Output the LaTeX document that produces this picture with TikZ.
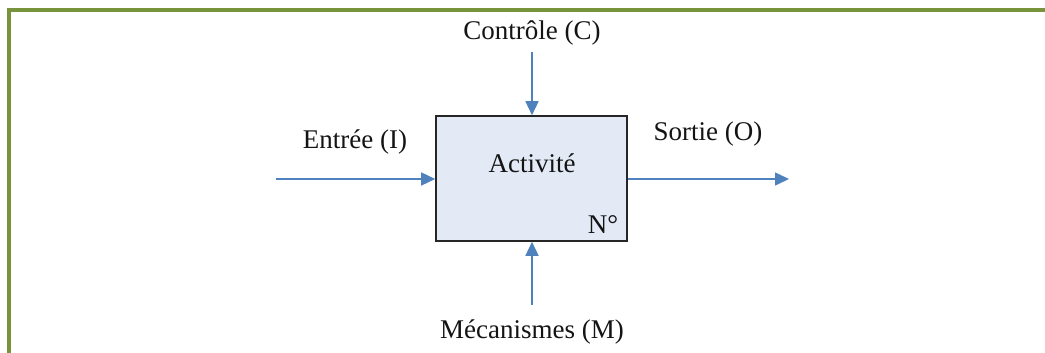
\documentclass[tikz,border=0pt]{standalone}
\usepackage{fontspec}
\setmainfont{Liberation Serif}
\usetikzlibrary{arrows.meta}
\definecolor{frameGreen}{RGB}{119,147,60}
\definecolor{arrowBlue}{RGB}{79,129,189}
\definecolor{boxFill}{RGB}{227,234,246}
\tikzset{
  lbl/.style={font=\fontsize{27}{30}\selectfont, text=black!92, inner sep=0pt, anchor=base},
  flow/.style={draw=arrowBlue, line width=1.5pt, -{Triangle[length=14pt,width=13pt]}},
  actbox/.style={draw=black!85, fill=boxFill, line width=1.6pt, minimum width=191pt, minimum height=125pt, inner sep=0pt}
}
\begin{document}
\begin{tikzpicture}[x=1pt,y=-1pt]
\useasboundingbox (0,0) rectangle (1045,353);
% frame
\draw[frameGreen, line width=3.2pt] (9,353) -- (9,10) -- (1045,10);
% activity box
\node[actbox] (box) at (531.5,178.5) {};
\node[lbl] (act) at (532,172) {Activité};
\node[lbl] (num) at (603,233) {N°};
% labels
\node[lbl] (ctl) at (532,40) {Contrôle (C)};
\node[lbl] (mec) at (532,338) {Mécanismes (M)};
\node[lbl] (inp) at (355,148) {Entrée (I)};
\node[lbl] (out) at (708,140) {Sortie (O)};
% arrow ends
\coordinate (inStart) at (276,179);
\coordinate (outEnd) at (789,179);
\coordinate (ctlStart) at (532,52);
\coordinate (mecStart) at (532,305);
\draw[flow] (inStart) -- (inStart -| box.west);
\draw[flow] (box.east |- outEnd) -- (outEnd);
\draw[flow] (ctlStart) -- (ctlStart |- box.north);
\draw[flow] (mecStart) -- (mecStart |- box.south);
\end{tikzpicture}
\end{document}
